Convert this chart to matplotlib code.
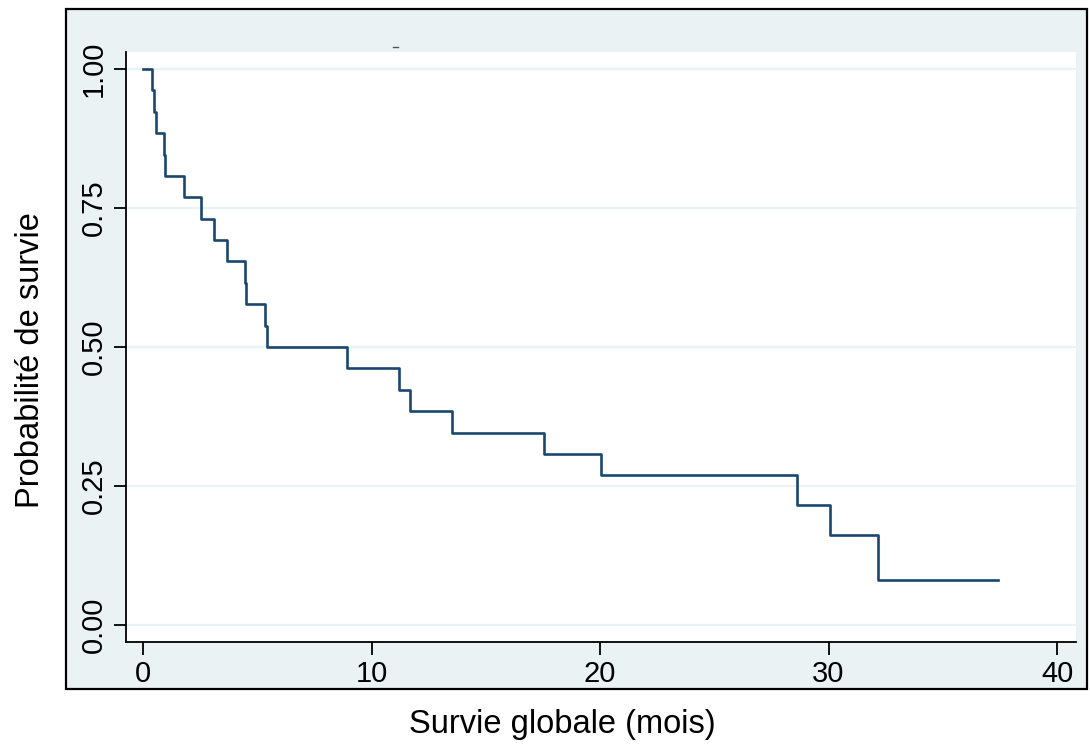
import numpy as np
import matplotlib.pyplot as plt
from matplotlib.patches import Rectangle
from matplotlib.lines import Line2D

plt.rcParams['font.family'] = ['Liberation Sans', 'DejaVu Sans']

# Kaplan-Meier estimate
times = [0, 0.38, 0.48, 0.57, 0.93, 0.95, 1.81, 2.52, 3.12, 3.66, 4.48, 4.51,
         5.34, 5.44, 8.94, 11.22, 11.68, 13.52, 17.55, 20.04, 28.63, 30.07, 32.15]
surv = [1.0, 0.962, 0.923, 0.885, 0.846, 0.808, 0.769, 0.731, 0.692, 0.654, 0.615, 0.577,
        0.538, 0.500, 0.462, 0.423, 0.385, 0.346, 0.308, 0.269, 0.215, 0.161, 0.081]
last_time = 37.43

xticks = [0, 10, 20, 30, 40]
yticks = [0.0, 0.25, 0.5, 0.75, 1.0]
ytick_labels = ['0.00', '0.25', '0.50', '0.75', '1.00']

W, H = 1090, 749
bg = '#EAF2F3'
navy = '#1A476F'

fig = plt.figure(figsize=(W / 100, H / 100), dpi=100)
fig.patch.set_facecolor('white')

# outer graph region with black frame
frame = Rectangle((66 / W, 1 - 689 / H), (1087 - 66) / W, (689 - 9) / H,
                  transform=fig.transFigure, facecolor=bg, edgecolor='black',
                  linewidth=1.6, zorder=0)
fig.add_artist(frame)
fig.add_artist(Line2D([393 / W, 398 / W], [1 - 47 / H, 1 - 47 / H],
                      transform=fig.transFigure, color='#555555', lw=1))

ax = fig.add_axes([126 / W, 1 - 642 / H, (1076 - 126) / W, (642 - 52) / H])
ax.set_facecolor('white')

x = list(times) + [last_time]
y = list(surv) + [surv[-1]]
ax.step(x, y, where='post', color=navy, lw=1.9, zorder=3)

ax.set_xlim(-0.744, 40.83)
ax.set_ylim(-0.0306, 1.0306)
ax.set_xticks(xticks)
ax.set_yticks(yticks)
ax.set_yticklabels(ytick_labels, rotation=90, va='center')
ax.grid(axis='y', color=bg, lw=1.6)
ax.grid(axis='x', visible=False)
ax.set_axisbelow(True)

for s in ['top', 'right']:
    ax.spines[s].set_visible(False)
for s in ['left', 'bottom']:
    ax.spines[s].set_linewidth(1.3)
ax.tick_params(direction='out', length=9, width=1.3, labelsize=21, pad=4)

fig.text(562 / W, 1 - 724 / H, 'Survie globale (mois)', ha='center', va='center', fontsize=23.5)
fig.text(31 / W, 1 - 360 / H, 'Probabilité de survie', ha='center', va='center',
         rotation=90, fontsize=23.5)

fig.savefig('out.png', dpi=100)
